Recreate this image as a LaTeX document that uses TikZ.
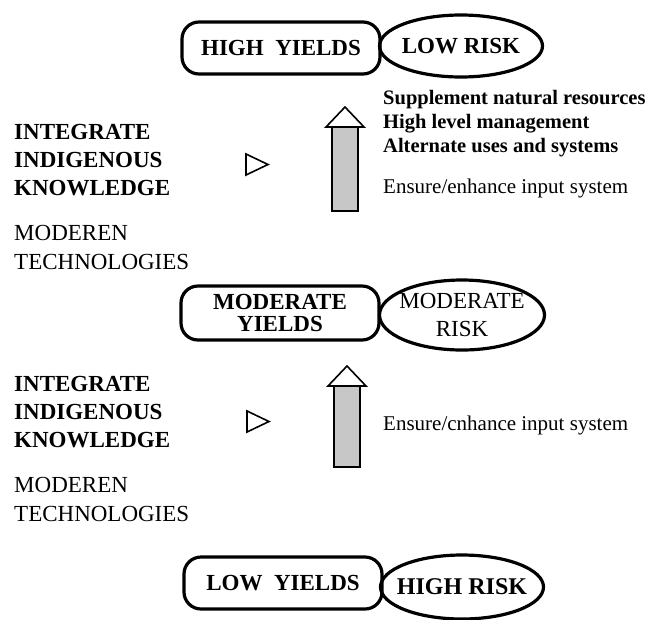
\documentclass[tikz,border=0pt]{standalone}
\usepackage{fontspec}
\setmainfont{Liberation Serif}
\usetikzlibrary{shapes.geometric}

\begin{document}
\begin{tikzpicture}[x=1pt,y=-1pt, every node/.style={inner sep=0pt},
  yieldbox/.style={draw,line width=3.2pt,rounded corners=17pt,minimum width=198pt,minimum height=52pt,align=center,font=\fontsize{23}{21.5}\selectfont\bfseries},
  riskoval/.style={draw,ellipse,line width=3.2pt,inner xsep=-14pt,inner ysep=-6pt,minimum width=163pt,minimum height=62pt,align=center,font=\fontsize{23}{28}\selectfont},
  inputtext/.style={anchor=west,align=left,font=\fontsize{23}{28}\selectfont},
  marker/.style={line width=1.6pt,line join=miter}]
\useasboundingbox (0,0) rectangle (652,619);
% three levels: yields vs risk
\node[yieldbox] (hiyield) at (281,48) {HIGH~~YIELDS};
\node[riskoval,font=\fontsize{23}{28}\selectfont\bfseries] (lowrisk) at (461,46) {LOW RISK};
\node[yieldbox,minimum height=54pt] (modyield) at (280,313) {MODERATE\\YIELDS};
\node[riskoval,minimum height=70pt,minimum width=165pt] (modrisk) at (462,315) {MODERATE\\RISK};
\node[yieldbox] (lowyield) at (283,583) {LOW~~YIELDS};
\node[riskoval,minimum height=64pt,font=\fontsize{24}{28}\selectfont\bfseries] (highrisk) at (462,587) {HIGH RISK};
% inputs on the left
\foreach \ty/\nm in {160/a,412/b} {
  \node[inputtext,font=\fontsize{23}{28}\selectfont\bfseries] (indig\nm) at (14,\ty) {INTEGRATE\\INDIGENOUS\\KNOWLEDGE};
  \node[inputtext,font=\fontsize{23}{29}\selectfont] (modtech\nm) at (14,\ty+87) {MODEREN\\TECHNOLOGIES};
}
\foreach \tx/\ty in {246/154,247/411} \draw[marker] (\tx,\ty) -- ++(22,10.5) -- ++(-22,10.5) -- cycle;
% block arrows
\foreach \ax/\ay/\by in {345/107/211,347/366/467} {
  \draw[fill=black!22,line width=1.6pt] (\ax-13,\ay+20) rectangle (\ax+13,\by);
  \draw[fill=white,line width=1.6pt,line join=miter] (\ax,\ay) -- (\ax+19,\ay+20) -- (\ax-19,\ay+20) -- cycle;
}
\node[anchor=west,align=left,font=\fontsize{20.5}{24}\selectfont\bfseries] (practices) at (383,124) {Supplement natural resources\\High level management\\Alternate uses and systems};
\node[anchor=west,font=\fontsize{21}{24}\selectfont] (inputhi) at (383,188) {Ensure/enhance input system};
\node[anchor=west,font=\fontsize{21}{24}\selectfont] (inputmod) at (383,425) {Ensure/cnhance input system};
\end{tikzpicture}
\end{document}
